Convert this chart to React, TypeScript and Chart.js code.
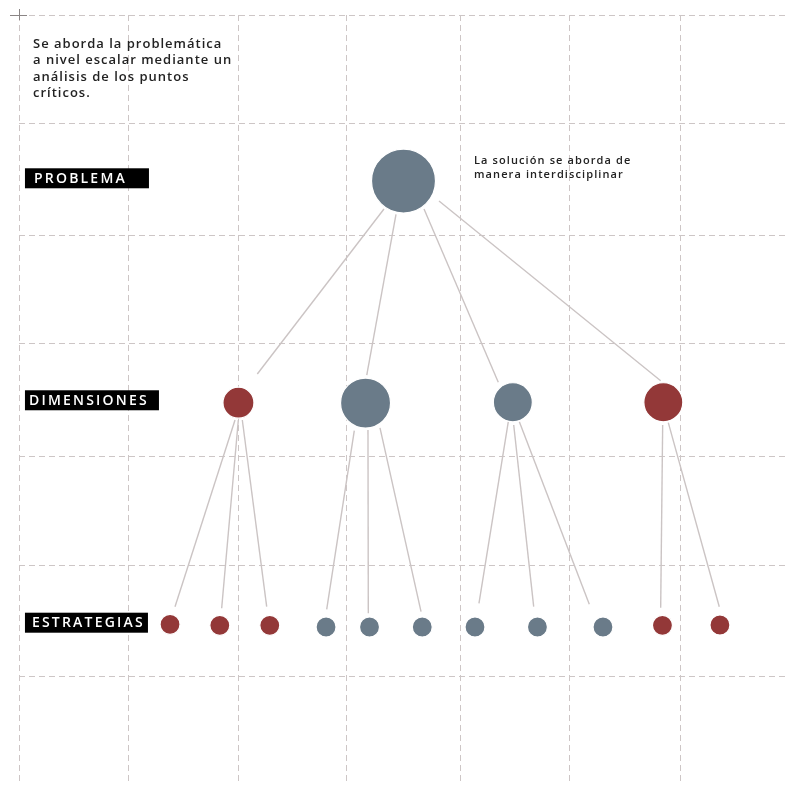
import React, { useEffect, useRef } from 'react';
import { Chart, registerables } from 'chart.js';

Chart.register(...registerables);

// ---------- data (grid units: one dashed cell = 1) ----------
const xGridTicks = [0, 0.99, 1.99, 2.97, 4.0, 4.99, 6.0];
const yGridTicks = [0, 0.98, 2.0, 2.98, 4.0, 4.99, 6.0];

const levelLabels = ['PROBLEMA', 'DIMENSIONES', 'ESTRATEGIAS'];
const levelLabelY = [1.48, 3.492, 5.508];
const levelLabelBoxWidth = [124, 134, 123];
const levelLabelInset = [9, 4, 7];

const problemX = [3.485];
const problemY = [1.505];
const problemR = [32];

const dimensionX = [1.989, 3.141, 4.476, 5.84];
const dimensionY = [3.514, 3.517, 3.51, 3.51];
const dimensionR = [15.5, 25, 19.5, 19.5];
const dimensionGroup = ['red', 'grey', 'grey', 'red'];

const strategyX = [1.369, 1.82, 2.273, 2.783, 3.177, 3.655, 4.133, 4.699, 5.293, 5.832, 6.353];
const strategyY = [5.523, 5.532, 5.532, 5.547, 5.547, 5.547, 5.547, 5.547, 5.547, 5.532, 5.529];
const strategyR = [10, 10, 10, 10, 10, 10, 10, 10, 10, 10, 10];
const strategyGroup = ['red', 'red', 'red', 'grey', 'grey', 'grey', 'grey', 'grey', 'grey', 'red', 'red'];

// connector segments: start point, end point
const linkStart = [
  [3.308, 1.758], [3.417, 1.806], [3.671, 1.758], [3.807, 1.686],
  [1.958, 3.671], [1.988, 3.671], [2.024, 3.671],
  [3.039, 3.768], [3.163, 3.761], [3.272, 3.743],
  [4.435, 3.686], [4.484, 3.716], [4.535, 3.686],
  [5.834, 3.716], [5.885, 3.695],
];
const linkEnd = [
  [2.16, 3.254], [3.152, 3.263], [4.344, 3.329], [5.816, 3.315],
  [1.414, 5.363], [1.837, 5.377], [2.245, 5.363],
  [2.789, 5.387], [3.166, 5.423], [3.644, 5.408],
  [4.169, 5.332], [4.665, 5.363], [5.169, 5.341],
  [5.816, 5.372], [6.347, 5.363],
];

const introText = [
  'Se aborda la problemática',
  'a nivel escalar mediante un',
  'análisis de los puntos',
  'críticos.',
];
const introPos = [0.127, 0.265]; // x, first-line y
const noteText = ['La solución se aborda de', 'manera interdisciplinar'];
const notePos = [4.124, 1.325];

// ---------- styles ----------
const W = 786;
const H = 785;
const PAD_LEFT = 19;
const PAD_TOP = 15;
const UNIT = 110.33;
const COLORS: Record<string, string> = { grey: '#6a7b89', red: '#933838' };
const GRID_COLOR = '#cdc6c6';
const LINK_COLOR = '#cbc4c4';
const FONT = '"Open Sans", "Noto Sans", sans-serif';

const annotations = {
  id: 'annotations',
  afterDraw(chart: any) {
    const { ctx, scales } = chart;
    const xs = scales.x;
    const ys = scales.y;
    ctx.save();

    // corner cross
    const cx = xs.getPixelForValue(0);
    const cy = ys.getPixelForValue(0);
    ctx.strokeStyle = '#8a8585';
    ctx.lineWidth = 1;
    ctx.beginPath();
    ctx.moveTo(cx - 9, cy + 0.5);
    ctx.lineTo(cx + 8, cy + 0.5);
    ctx.moveTo(cx + 0.5, cy - 6);
    ctx.lineTo(cx + 0.5, cy + 5);
    ctx.stroke();

    // level labels
    ctx.textBaseline = 'middle';
    ctx.textAlign = 'left';
    levelLabels.forEach((label, i) => {
      const yy = ys.getPixelForValue(levelLabelY[i]);
      const xx = xs.getPixelForValue(0.054);
      ctx.fillStyle = '#000';
      ctx.fillRect(xx, yy - 10, levelLabelBoxWidth[i], 20);
      ctx.fillStyle = '#fff';
      ctx.font = `600 14px ${FONT}`;
      (ctx as any).letterSpacing = '2.2px';
      ctx.fillText(label, xx + levelLabelInset[i], yy + 0.5);
    });

    // intro text
    ctx.fillStyle = '#222';
    ctx.font = `600 13px ${FONT}`;
    (ctx as any).letterSpacing = '1px';
    introText.forEach((line, i) => {
      ctx.fillText(line, xs.getPixelForValue(introPos[0]), ys.getPixelForValue(introPos[1]) + i * 16.5);
    });

    // note text
    ctx.font = `600 11px ${FONT}`;
    (ctx as any).letterSpacing = '1.1px';
    noteText.forEach((line, i) => {
      ctx.fillText(line, xs.getPixelForValue(notePos[0]), ys.getPixelForValue(notePos[1]) + i * 14);
    });
    (ctx as any).letterSpacing = '0px';
    ctx.restore();
  },
};

function nodes(xv: number[], yv: number[], rv: number[]) {
  return xv.map((x, i) => ({ x, y: yv[i], r: rv[i] }));
}

export default function App() {
  const ref = useRef<HTMLCanvasElement>(null);

  useEffect(() => {
    if (!ref.current) return;
    const linkSets = linkStart.map((s, i) => ({
      type: 'line' as const,
      data: [
        { x: s[0], y: s[1] },
        { x: linkEnd[i][0], y: linkEnd[i][1] },
      ],
      borderColor: LINK_COLOR,
      borderWidth: 1.4,
      pointRadius: 0,
      fill: false,
      order: 2,
    }));

    const dimAll = nodes(dimensionX, dimensionY, dimensionR);
    const strAll = nodes(strategyX, strategyY, strategyR);
    const nodeSet = (data: any[], color: string) => ({
      type: 'bubble' as const,
      data,
      backgroundColor: color,
      borderColor: '#ffffff',
      borderWidth: 1.2,
      order: 0,
    });

    const chart = new Chart(ref.current, {
      type: 'bubble',
      data: {
        datasets: [
          nodeSet(nodes(problemX, problemY, problemR), COLORS.grey),
          nodeSet(dimAll.filter((_, i) => dimensionGroup[i] === 'grey'), COLORS.grey),
          nodeSet(dimAll.filter((_, i) => dimensionGroup[i] === 'red'), COLORS.red),
          nodeSet(strAll.filter((_, i) => strategyGroup[i] === 'grey'), COLORS.grey),
          nodeSet(strAll.filter((_, i) => strategyGroup[i] === 'red'), COLORS.red),
          ...linkSets,
        ] as any,
      },
      options: {
        animation: false,
        responsive: false,
        devicePixelRatio: 1,
        layout: { autoPadding: false, padding: { left: PAD_LEFT, top: PAD_TOP, right: 0, bottom: 0 } },
        plugins: { legend: { display: false }, tooltip: { enabled: false } },
        scales: {
          x: {
            type: 'linear',
            min: 0,
            max: (W - PAD_LEFT) / UNIT,
            afterBuildTicks: (s: any) => {
              s.ticks = xGridTicks.map((v) => ({ value: v }));
            },
            grid: { color: GRID_COLOR, lineWidth: 1, drawTicks: false },
            border: { display: false, dash: [6, 4] },
            ticks: { display: false },
          },
          y: {
            type: 'linear',
            reverse: true,
            min: 0,
            max: (H - PAD_TOP) / UNIT,
            afterBuildTicks: (s: any) => {
              s.ticks = yGridTicks.map((v) => ({ value: v }));
            },
            grid: { color: GRID_COLOR, lineWidth: 1, drawTicks: false },
            border: { display: false, dash: [6, 4] },
            ticks: { display: false },
          },
        },
      },
      plugins: [annotations],
    });
    return () => chart.destroy();
  }, []);

  return (
    <div style={{ position: 'absolute', left: 0, top: 0, width: W, height: H, background: '#fff' }}>
      <canvas ref={ref} width={W} height={H} style={{ display: 'block' }} />
    </div>
  );
}
